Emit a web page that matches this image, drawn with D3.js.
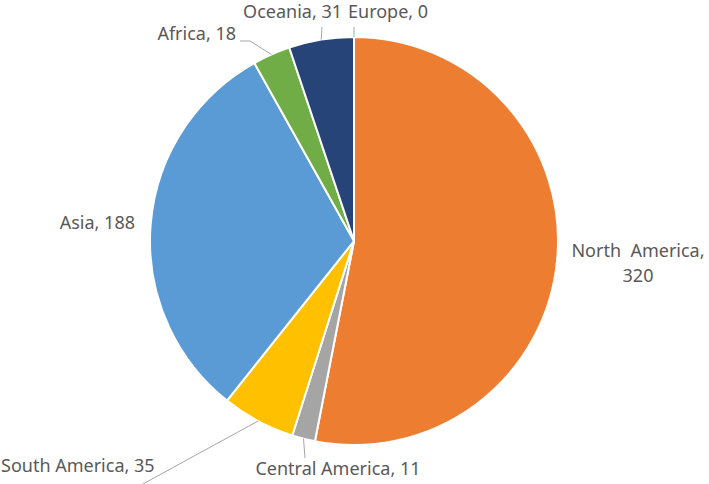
<!DOCTYPE html>
<html>
<head>
<meta charset="utf-8">
<script src="https://cdn.jsdelivr.net/npm/d3@7"></script>
<style>
  body { margin: 0; background: #fff; }
  svg text { font-family: "Noto Sans", "Open Sans", sans-serif; font-size: 18px; fill: #595959; }
</style>
</head>
<body>
<svg id="chart" width="709" height="484"></svg>
<script>
// data
var regions = ["Europe", "North America", "Central America", "South America", "Asia", "Africa", "Oceania"];
var counts = [0, 320, 11, 35, 188, 18, 31];
var colors = ["#4472C4", "#ED7D31", "#A5A5A5", "#FFC000", "#5B9BD5", "#70AD47", "#264478"];

// label placement (text anchor point, leader end point)
var labelPos = {
    "Europe":          { x: 348, y: 18, anchor: "start", lead: [354, 27] },
    "North America":   { x: 638, y: 257, anchor: "middle", lead: null },
    "Central America": { x: 338, y: 475, anchor: "middle", lead: [305, 458] },
    "South America":   { x: 1, y: 472, anchor: "start", lead: [132, 490] },
    "Asia":            { x: 135, y: 229, anchor: "end", lead: null },
    "Africa":          { x: 236, y: 40, anchor: "end", lead: [240, 41] },
    "Oceania":         { x: 342, y: 18, anchor: "end", lead: [322, 27] }
};

var cx = 354, cy = 241, radius = 204;

var svg = d3.select("#chart");
var g = svg.append("g").attr("transform", "translate(" + cx + "," + cy + ")");

var pie = d3.pie().sort(null).value(function(d) { return d.value; });
var arc = d3.arc().innerRadius(0).outerRadius(radius);

var data = regions.map(function(r, i) { return { name: r, value: counts[i], color: colors[i] }; });
var arcs = pie(data);

g.selectAll("path.slice")
    .data(arcs.filter(function(d) { return d.value > 0; }))
    .enter().append("path")
    .attr("class", "slice")
    .attr("d", arc)
    .attr("fill", function(d) { return d.data.color; })
    .attr("stroke", "#fff")
    .attr("stroke-width", 2)
    .attr("stroke-linejoin", "round");

// point on the rim at the slice middle
function rimPoint(d) {
    var a = (d.startAngle + d.endAngle) / 2;
    return [cx + Math.sin(a) * radius, cy - Math.cos(a) * radius];
}

// leader lines
arcs.forEach(function(d) {
    var p = labelPos[d.data.name];
    if (!p.lead) return;
    var rim = rimPoint(d);
    var pts = [p.lead];
    if (d.data.name === "Africa") pts.push([p.lead[0] + 10, p.lead[1]]);
    pts.push(rim);
    svg.append("path")
        .attr("d", d3.line()(pts))
        .attr("fill", "none")
        .attr("stroke", "#A6A6A6")
        .attr("stroke-width", 1);
});

// labels
arcs.forEach(function(d) {
    var p = labelPos[d.data.name];
    var t = svg.append("text")
        .attr("x", p.x)
        .attr("y", p.y)
        .attr("text-anchor", p.anchor);
    if (d.data.name === "North America") {
        t.append("tspan").attr("x", p.x).text("North\u00a0 America,");
        t.append("tspan").attr("x", p.x).attr("dy", 25).text(d.data.value);
    } else {
        t.text(d.data.name + ", " + d.data.value);
    }
});
</script>
</body>
</html>
